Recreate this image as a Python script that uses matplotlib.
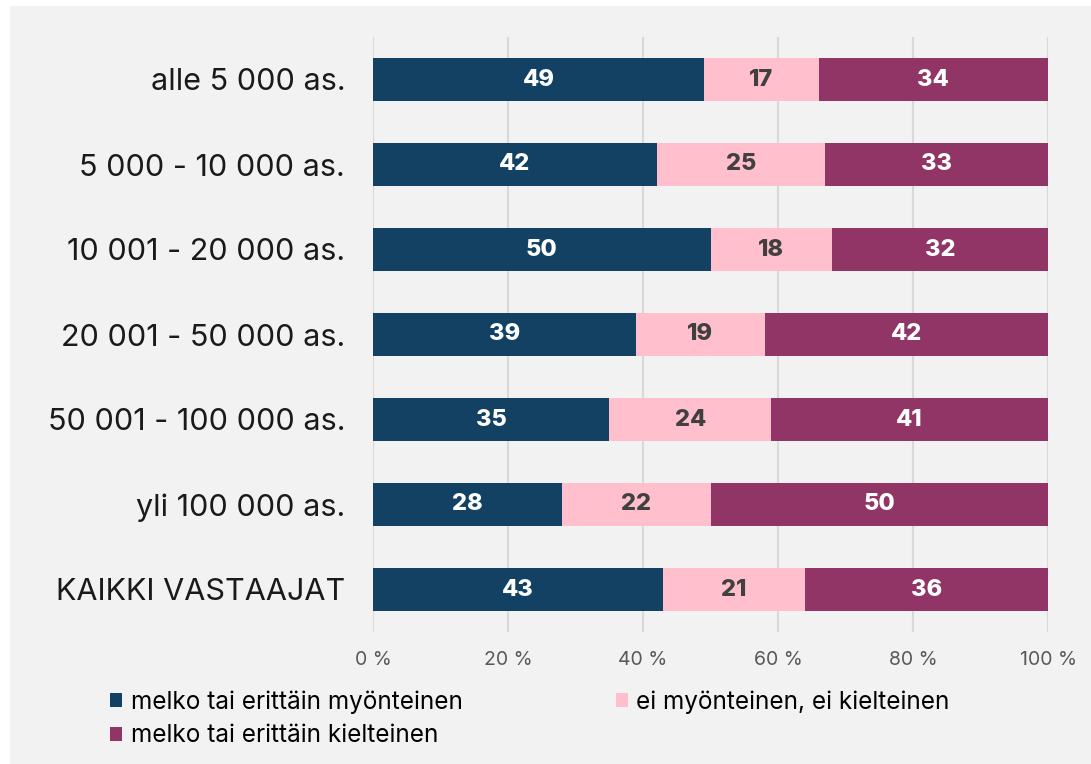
import matplotlib.pyplot as plt
from matplotlib.patches import Rectangle, Patch

categories = ["alle 5 000 as.", "5 000 - 10 000 as.", "10 001 - 20 000 as.",
              "20 001 - 50 000 as.", "50 001 - 100 000 as.", "yli 100 000 as.",
              "KAIKKI VASTAAJAT"]
positive = [49, 42, 50, 39, 35, 28, 43]
neutral = [17, 25, 18, 19, 24, 22, 21]
negative = [34, 33, 32, 42, 41, 50, 36]
series_names = ["melko tai erittäin myönteinen", "ei myönteinen, ei kielteinen",
                "melko tai erittäin kielteinen"]
colors = ["#124163", "#ffbfcc", "#913466"]
label_colors = ["white", "#404040", "white"]
xticks = [0, 20, 40, 60, 80, 100]

plt.rcParams['font.family'] = ['Inter', 'DejaVu Sans']

fig = plt.figure(figsize=(10.91, 7.64), dpi=100)
fig.patch.set_facecolor("white")
fig.patches.append(Rectangle((10 / 1091, 0), 1, (764 - 6) / 764, transform=fig.transFigure,
                             facecolor="#f2f2f2", edgecolor="none", zorder=-10))

ax = fig.add_axes([373 / 1091, 1 - 632 / 764, (1048 - 373) / 1091, (632 - 37) / 764])
ax.set_facecolor("none")

ypos = list(range(len(categories)))
left = [0] * len(categories)
handles = []
for vals, col, lcol, name in zip([positive, neutral, negative], colors, label_colors, series_names):
    bars = ax.barh(ypos, vals, left=left, height=0.5, color=col, zorder=3)
    for b, v in zip(bars, vals):
        ax.text(b.get_x() + b.get_width() / 2, b.get_y() + b.get_height() / 2, str(v),
                ha="center", va="center", color=lcol, fontsize=17, fontweight="heavy", zorder=4)
    left = [l + v for l, v in zip(left, vals)]
    handles.append(Patch(facecolor=col, label=name))

ax.set_xlim(0, 100)
ax.set_ylim(6.5, -0.5)
ax.set_yticks(ypos)
ax.set_yticklabels(categories, fontsize=22, color="#1a1a1a")
ax.set_xticks(xticks)
ax.set_xticklabels([f"{t} %" for t in xticks], fontsize=14, color="#595959")
ax.tick_params(axis="y", length=0, pad=20)
ax.tick_params(axis="x", length=0, pad=14)
ax.grid(axis="x", color="#d9d9d9", linewidth=1.5, zorder=0)
for s in ax.spines.values():
    s.set_visible(False)

leg = fig.legend([handles[0], handles[2], handles[1]],
                 [series_names[0], series_names[2], series_names[1]],
                 loc="upper left", bbox_to_anchor=(110 / 1091, 1 - 690 / 764), ncol=2,
                 frameon=False, fontsize=17.5, handlelength=0.5, handleheight=0.5,
                 handletextpad=0.35, columnspacing=6.3, labelspacing=0.45,
                 borderaxespad=0, borderpad=0)

fig.savefig("out.png", dpi=100, facecolor="white")
